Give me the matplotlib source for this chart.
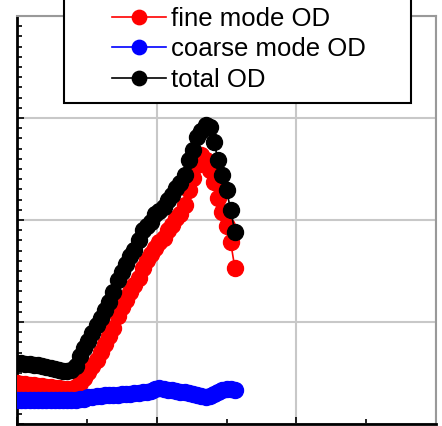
import numpy as np
import matplotlib
matplotlib.use('Agg')
import matplotlib.pyplot as plt
from matplotlib.patches import Rectangle
from matplotlib.ticker import MultipleLocator, NullFormatter

# time axis (hours) and optical depth series
time = [0.00, 0.03, 0.06, 0.09, 0.12, 0.15, 0.18, 0.21, 0.24, 0.27,
        0.30, 0.33, 0.36, 0.39, 0.42, 0.45, 0.48, 0.51, 0.54, 0.57,
        0.60, 0.63, 0.66, 0.69, 0.72, 0.75, 0.78, 0.81, 0.84, 0.87,
        0.90, 0.93, 0.96, 0.99, 1.02, 1.05, 1.08, 1.11, 1.14, 1.17,
        1.20, 1.23, 1.26, 1.29, 1.32, 1.35, 1.38, 1.41, 1.44, 1.47,
        1.50, 1.53, 1.56]

fine_od = [0.040, 0.039, 0.039, 0.038, 0.038, 0.037, 0.037, 0.036, 0.036, 0.035,
           0.035, 0.034, 0.034, 0.034, 0.036, 0.040, 0.045, 0.051, 0.057, 0.063,
           0.071, 0.078, 0.086, 0.094, 0.106, 0.115, 0.122, 0.129, 0.136, 0.143,
           0.153, 0.161, 0.167, 0.173, 0.178, 0.182, 0.190, 0.195, 0.202, 0.206,
           0.215, 0.229, 0.241, 0.254, 0.264, 0.259, 0.249, 0.237, 0.222, 0.208,
           0.194, 0.178, 0.153]

coarse_od = [0.024, 0.024, 0.024, 0.024, 0.024, 0.024, 0.024, 0.024, 0.024, 0.024,
             0.024, 0.024, 0.024, 0.024, 0.024, 0.025, 0.025, 0.026, 0.026, 0.027,
             0.027, 0.028, 0.028, 0.028, 0.028, 0.029, 0.029, 0.029, 0.030, 0.030,
             0.031, 0.031, 0.032, 0.034, 0.035, 0.034, 0.033, 0.033, 0.032, 0.031,
             0.031, 0.030, 0.029, 0.028, 0.027, 0.026, 0.027, 0.029, 0.031, 0.033,
             0.034, 0.034, 0.033]

total_od = [0.060, 0.060, 0.059, 0.059, 0.058, 0.058, 0.057, 0.056, 0.055, 0.054,
            0.053, 0.052, 0.052, 0.053, 0.057, 0.067, 0.075, 0.081, 0.089, 0.097,
            0.104, 0.112, 0.120, 0.129, 0.141, 0.149, 0.157, 0.165, 0.171, 0.180,
            0.190, 0.194, 0.198, 0.206, 0.209, 0.213, 0.220, 0.225, 0.231, 0.236,
            0.244, 0.259, 0.269, 0.281, 0.287, 0.293, 0.291, 0.276, 0.259, 0.244,
            0.229, 0.210, 0.188]

labels = ['fine mode OD', 'coarse mode OD', 'total OD']

plt.rcParams['font.family'] = ['Liberation Sans', 'DejaVu Sans']

fig = plt.figure(figsize=(4.42, 4.26), dpi=100)
ax = fig.add_axes([17/442, 1-424/426, 419/442, 408/426])

#三条曲线
ax.plot(time, fine_od, '-o', color='#ff0000', ms=11.5, lw=1.2, label=labels[0], zorder=3)
ax.plot(time, coarse_od, '-o', color='#0000ff', ms=11.5, lw=1.2, label=labels[1], zorder=3)
ax.plot(time, total_od, '-o', color='#000000', ms=11.5, lw=1.2, label=labels[2], zorder=3)

ax.set_xlim(0, 3)
ax.set_ylim(0, 0.4)
ax.xaxis.set_major_locator(MultipleLocator(1))
ax.xaxis.set_minor_locator(MultipleLocator(0.5))
ax.yaxis.set_major_locator(MultipleLocator(0.1))
ax.yaxis.set_minor_locator(MultipleLocator(0.01))
ax.xaxis.set_major_formatter(NullFormatter())
ax.yaxis.set_major_formatter(NullFormatter())
ax.tick_params(which='both', direction='in', color='black', width=1.2,
               top=False, right=False)
ax.tick_params(which='major', length=5)
ax.tick_params(which='minor', length=3.5)

ax.grid(True, which='major', color='#c8c8c8', lw=1.5, zorder=0)
ax.set_axisbelow(True)

for side in ['left', 'bottom']:
    ax.spines[side].set_color('black')
    ax.spines[side].set_linewidth(2)
for side in ['top', 'right']:
    ax.spines[side].set_color('#999999')
    ax.spines[side].set_linewidth(1.5)

#图例框
box = Rectangle((0.112, 0.787), 0.828, 0.5, transform=ax.transAxes,
                facecolor='white', edgecolor='black', lw=1.5,
                clip_on=False, zorder=10)
ax.add_patch(box)
leg = ax.legend(loc='lower left', bbox_to_anchor=(0.2267, 0.814), frameon=False,
                fontsize=18.5, handlelength=2.1, handletextpad=0.2,
                labelspacing=0.25, borderpad=0, borderaxespad=0, markerscale=0.9)
leg.set_zorder(11)

fig.savefig('out.png', dpi=100)
